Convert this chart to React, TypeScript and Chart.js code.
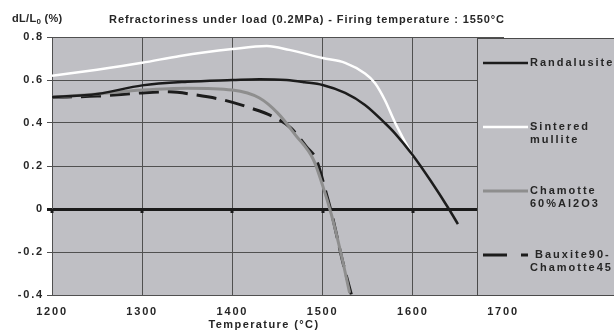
import React, { useEffect, useRef } from "react";
import { Chart, registerables } from "chart.js";
Chart.register(...registerables);

// ---- data ----
const randTemps = [1200, 1250, 1300, 1350, 1400, 1430, 1460, 1480, 1500, 1525, 1547, 1569, 1580, 1600, 1620, 1640, 1650];
const randVals = [0.52, 0.535, 0.575, 0.592, 0.6, 0.604, 0.6, 0.59, 0.577, 0.54, 0.484, 0.4, 0.353, 0.25, 0.13, 0.0, -0.07];

const mulliteTemps = [1200, 1250, 1300, 1342, 1400, 1438, 1463, 1500, 1525, 1547, 1558, 1569, 1580, 1600];
const mulliteVals = [0.62, 0.648, 0.68, 0.712, 0.744, 0.758, 0.74, 0.702, 0.68, 0.63, 0.586, 0.507, 0.405, 0.245];

const chamotteTemps = [1200, 1250, 1300, 1350, 1400, 1430, 1450, 1470, 1490, 1500, 1510, 1520, 1530];
const chamotteVals = [0.52, 0.535, 0.553, 0.562, 0.553, 0.516, 0.447, 0.344, 0.228, 0.11, -0.03, -0.2, -0.39];

const bauxiteTemps = [1200, 1250, 1300, 1330, 1360, 1390, 1420, 1445, 1465, 1482, 1493, 1504, 1510, 1522, 1532];
const bauxiteVals = [0.52, 0.525, 0.54, 0.545, 0.53, 0.507, 0.47, 0.43, 0.376, 0.29, 0.23, 0.074, -0.02, -0.24, -0.4];

const seriesNames = ["Randalusite", "Sintered mullite", "Chamotte 60%Al2O3", "Bauxite90- Chamotte45"];
const legendLabelLines = [["Randalusite"], ["Sintered", "mullite"], ["Chamotte", "60%Al2O3"], [" Bauxite90-", "Chamotte45"]];

const xMin = 1200;
const xMax = 1700;
const xStep = 100;
const yMin = -0.4;
const yMax = 0.8;
const yStep = 0.2;

const chartTitle = "Refractoriness under load (0.2MPa) - Firing temperature : 1550°C";
const xTitle = "Temperature (°C)";

// ---- styles ----
const PLOT_BG = "#bfbfc4";
const GRID = "#505050";
const TEXT = "#262626";
const FONT = "Arial, 'Liberation Sans', sans-serif";

const toPts = (t: number[], v: number[]) => t.map((x, i) => ({ x, y: v[i] }));

const seriesStyles = [
  { color: "#1c1c1c", width: 2.5, dash: [] as number[] },
  { color: "#ffffff", width: 2.5, dash: [] as number[] },
  { color: "#8e8e8e", width: 3, dash: [] as number[] },
  { color: "#1c1c1c", width: 3, dash: [20, 9] },
];

const decorPlugin = {
  id: "decor",
  beforeDraw(chart: any) {
    const { ctx, chartArea: a } = chart;
    ctx.save();
    ctx.fillStyle = "#ffffff";
    ctx.fillRect(0, 0, chart.width, chart.height);
    ctx.fillStyle = PLOT_BG;
    ctx.fillRect(a.left, a.top, a.right - a.left, a.bottom - a.top);
    ctx.restore();
    ctx.letterSpacing = "1.8px";
  },
  beforeDatasetsDraw(chart: any) {
    const { ctx } = chart;
    const xs = chart.scales.x;
    const ys = chart.scales.y;
    const y0 = ys.getPixelForValue(0);
    ctx.save();
    ctx.fillStyle = "#1a1a1a";
    for (let t = xMin; t < xMax; t += xStep) {
      const px = Math.round(xs.getPixelForValue(t));
      ctx.fillRect(px - 1.5, y0, 3, 4);
    }
    ctx.restore();
  },
  afterDraw(chart: any) {
    const { ctx } = chart;
    ctx.save();
    ctx.letterSpacing = "0px";
    // chart title
    ctx.fillStyle = TEXT;
    ctx.textBaseline = "middle";
    ctx.textAlign = "center";
    ctx.font = `bold 11px ${FONT}`;
    ctx.letterSpacing = "0.9px";
    ctx.fillText(chartTitle, 307, 20);
    // y title with subscript
    ctx.textAlign = "left";
    ctx.letterSpacing = "0.3px";
    ctx.font = `bold 11px ${FONT}`;
    let x = 12;
    ctx.fillText("dL/L", x, 19);
    x += ctx.measureText("dL/L").width;
    ctx.font = `bold 8px ${FONT}`;
    ctx.fillText("0", x, 22);
    x += ctx.measureText("0").width;
    ctx.font = `bold 11px ${FONT}`;
    ctx.fillText(" (%)", x, 19);
    // x title
    ctx.textAlign = "center";
    ctx.letterSpacing = "1.4px";
    ctx.fillText(xTitle, 264, 325);

    // legend box
    const bx = 477;
    const by = 38;
    ctx.fillStyle = PLOT_BG;
    ctx.fillRect(bx, by, chart.width - bx + 5, 258);
    ctx.strokeStyle = "#4a4a4a";
    ctx.lineWidth = 1;
    ctx.strokeRect(bx + 0.5, by + 0.5, chart.width - bx + 5, 257);
    ctx.font = `bold 11px ${FONT}`;
    ctx.letterSpacing = "2px";
    ctx.textAlign = "left";
    legendLabelLines.forEach((lines, i) => {
      const ly = 63 + i * 64;
      const st = seriesStyles[i];
      ctx.beginPath();
      ctx.strokeStyle = st.color;
      ctx.lineWidth = st.width;
      ctx.setLineDash(i === 3 ? [24, 14] : []);
      ctx.moveTo(483, ly);
      ctx.lineTo(528, ly);
      ctx.stroke();
      ctx.setLineDash([]);
      ctx.fillStyle = TEXT;
      lines.forEach((s, j) => ctx.fillText(s, 530, ly + j * 12.5));
    });
    ctx.restore();
  },
};

export default function App() {
  const ref = useRef<HTMLCanvasElement>(null);
  useEffect(() => {
    if (!ref.current) return;
    const data = [
      toPts(randTemps, randVals),
      toPts(mulliteTemps, mulliteVals),
      toPts(chamotteTemps, chamotteVals),
      toPts(bauxiteTemps, bauxiteVals),
    ];
    const chart = new Chart(ref.current, {
      type: "line",
      data: {
        datasets: data.map((d, i) => ({
          label: seriesNames[i],
          data: d,
          borderColor: seriesStyles[i].color,
          borderWidth: seriesStyles[i].width,
          borderDash: seriesStyles[i].dash,
          pointRadius: 0,
          fill: false,
          cubicInterpolationMode: "monotone" as const,
        })),
      },
      options: {
        responsive: false,
        animation: false,
        layout: { padding: { left: 0, top: 37, right: 111, bottom: 0 } },
        plugins: { legend: { display: false }, title: { display: false }, tooltip: { enabled: false } },
        scales: {
          x: {
            type: "linear",
            min: xMin,
            max: xMax,
            afterFit: (s: any) => {
              s.height = 37;
            },
            ticks: {
              stepSize: xStep,
              padding: 10,
              color: TEXT,
              font: { family: FONT, size: 11, weight: "bold" },
              callback: (v: any) => String(v),
              maxRotation: 0,
            },
            grid: { color: GRID, lineWidth: 1, drawTicks: false },
            border: { color: GRID },
          },
          y: {
            type: "linear",
            min: yMin,
            max: yMax,
            afterFit: (s: any) => {
              s.width = 52;
            },
            ticks: {
              stepSize: yStep,
              padding: 3,
              color: TEXT,
              font: { family: FONT, size: 11, weight: "bold" },
              callback: (v: any) => (Math.abs(v) < 1e-9 ? "0" : Number(v).toFixed(1)),
            },
            grid: {
              color: (c: any) => (c.tick && Math.abs(c.tick.value) < 1e-9 ? "#1a1a1a" : GRID),
              lineWidth: (c: any) => (c.tick && Math.abs(c.tick.value) < 1e-9 ? 3 : 1),
              tickLength: 5,
            },
            border: { color: GRID },
          },
        },
      },
      plugins: [decorPlugin],
    });
    return () => chart.destroy();
  }, []);
  return (
    <div style={{ position: "absolute", left: 0, top: 0, width: 614, height: 332 }}>
      <canvas ref={ref} width={614} height={332} style={{ width: 614, height: 332 }} />
    </div>
  );
}
